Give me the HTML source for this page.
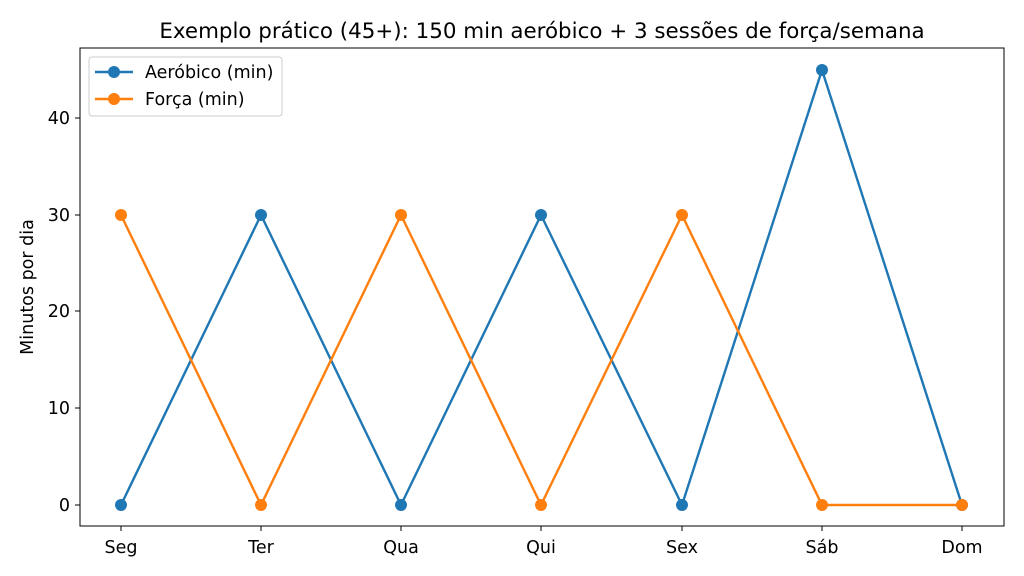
<!DOCTYPE html>
<html><head><meta charset="utf-8"><style>
html,body{margin:0;padding:0;background:#fff;}
svg{display:block;font-family:"DejaVu Sans","Liberation Sans",sans-serif;}
</style></head><body>
<svg width="1024" height="576" viewBox="0 0 1024 576" xmlns="http://www.w3.org/2000/svg">
<rect width="1024" height="576" fill="#fff"/>
<text x="542" y="38" font-size="21.4" text-anchor="middle" fill="#000">Exemplo prático (45+): 150 min aeróbico + 3 sessões de força/semana</text>
<g stroke="#000" stroke-width="1">
<line x1="121" y1="526" x2="121" y2="531"/><line x1="261" y1="526" x2="261" y2="531"/>
<line x1="401" y1="526" x2="401" y2="531"/><line x1="541" y1="526" x2="541" y2="531"/>
<line x1="682" y1="526" x2="682" y2="531"/><line x1="822" y1="526" x2="822" y2="531"/>
<line x1="962" y1="526" x2="962" y2="531"/>
<line x1="75" y1="505" x2="80" y2="505"/><line x1="75" y1="408" x2="80" y2="408"/>
<line x1="75" y1="311" x2="80" y2="311"/><line x1="75" y1="215" x2="80" y2="215"/>
<line x1="75" y1="118" x2="80" y2="118"/>
</g>
<g font-size="17.5" fill="#000" text-anchor="middle">
<text x="121" y="553">Seg</text><text x="261" y="553">Ter</text><text x="401" y="553">Qua</text>
<text x="541" y="553">Qui</text><text x="682" y="553">Sex</text><text x="822" y="553">Sáb</text><text x="962" y="553">Dom</text>
</g>
<g font-size="17.5" fill="#000" text-anchor="end">
<text x="70" y="511">0</text><text x="70" y="414">10</text><text x="70" y="317">20</text>
<text x="70" y="221">30</text><text x="70" y="124">40</text>
</g>
<text transform="translate(33,287) rotate(-90)" font-size="17.5" text-anchor="middle" fill="#000">Minutos por dia</text>
<polyline fill="none" stroke="#1f77b4" stroke-width="2.4" points="121,505 261,215 401,505 541,215 682,505 822,70 962,505"/>
<polyline fill="none" stroke="#ff7f0e" stroke-width="2.4" points="121,215 261,505 401,215 541,505 682,215 822,505 962,505"/>
<g fill="#1f77b4">
<circle cx="121" cy="505" r="6"/><circle cx="261" cy="215" r="6"/><circle cx="401" cy="505" r="6"/>
<circle cx="541" cy="215" r="6"/><circle cx="682" cy="505" r="6"/><circle cx="822" cy="70" r="6"/><circle cx="962" cy="505" r="6"/>
</g>
<g fill="#ff7f0e">
<circle cx="121" cy="215" r="6"/><circle cx="261" cy="505" r="6"/><circle cx="401" cy="215" r="6"/>
<circle cx="541" cy="505" r="6"/><circle cx="682" cy="215" r="6"/><circle cx="822" cy="505" r="6"/><circle cx="962" cy="505" r="6"/>
</g>
<rect x="80" y="48" width="924" height="478" fill="none" stroke="#000" stroke-width="1"/>
<rect x="89" y="57" width="193" height="59" rx="3" fill="#fff" fill-opacity="0.8" stroke="#ccc"/>
<line x1="95" y1="72" x2="133" y2="72" stroke="#1f77b4" stroke-width="2.4"/><circle cx="114" cy="72" r="6" fill="#1f77b4"/>
<line x1="95" y1="99" x2="133" y2="99" stroke="#ff7f0e" stroke-width="2.4"/><circle cx="114" cy="99" r="6" fill="#ff7f0e"/>
<text x="145" y="78" font-size="17.5" fill="#000">Aeróbico (min)</text>
<text x="145" y="105" font-size="17.5" fill="#000">Força (min)</text>
</svg>
</body></html>
